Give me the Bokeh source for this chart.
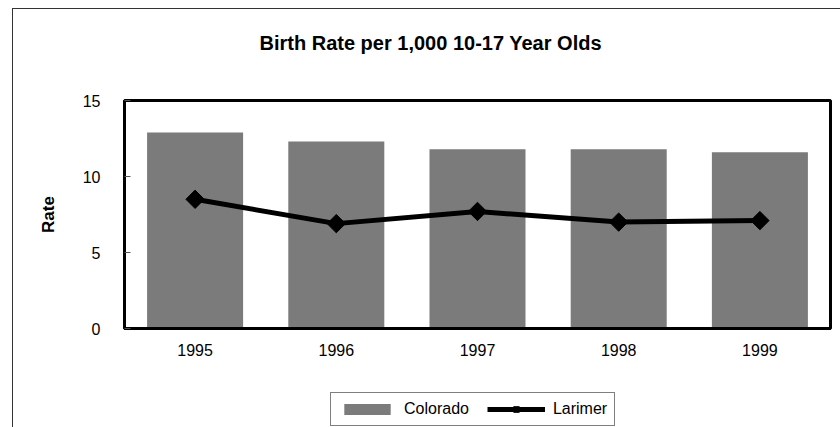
import numpy as np
from bokeh.plotting import figure
from bokeh.layouts import column
from bokeh.models import (FactorRange, Legend, LegendItem, ColumnDataSource, CategoricalAxis)
from bokeh.embed import file_html
from bokeh.resources import INLINE

years = ["1995", "1996", "1997", "1998", "1999"]
colorado = [12.9, 12.3, 11.8, 11.8, 11.6]
larimer = [8.5, 6.9, 7.7, 7.0, 7.1]
y_ticks = [0, 5, 10, 15]

BAR_COLOR = "#7b7b7b"
src = ColumnDataSource(dict(year=years, colorado=colorado, larimer=larimer))

p = figure(width=840, height=392, output_backend="svg", toolbar_location=None,
           x_range=FactorRange(*years, range_padding=0), y_range=(0, 15),
           min_border_left=124, min_border_right=10, min_border_top=100, min_border_bottom=64,
           title="Birth Rate per 1,000 10-17 Year Olds")
# outer chart border (page background shown through a transparent border area)
p.styles = {"background": "linear-gradient(#333,#333) 12px 8px / 1px 100% no-repeat, "
                          "linear-gradient(#333,#333) 12px 8px / 100% 1px no-repeat, #ffffff"}
p.border_fill_alpha = 0

xax = p.xaxis[0]

# an axis without line, ticks or visible labels: only reserves space above the frame
spacer = CategoricalAxis(major_tick_out=42, major_tick_in=0, major_label_standoff=0,
                         axis_line_color=None, major_tick_line_color=None,
                         major_label_overrides={y: "" for y in years},
                         major_label_text_font_size="1px", major_label_text_alpha=0)
p.add_layout(spacer, "above")

p.title.text_font = "Liberation Sans"
p.title.text_font_size = "20px"
p.title.text_font_style = "bold"
p.title.text_color = "black"
p.title.align = "left"
p.title.offset = 135
p.title.standoff = 10

p.outline_line_color = "black"
p.outline_line_width = 3
p.outline_line_alpha = 1
p.background_fill_color = "white"
p.xgrid.visible = False
p.ygrid.visible = False

p.vbar(x="year", top="colorado", width=0.68, source=src, fill_color=BAR_COLOR, line_color=None)
p.line(x="year", y="larimer", source=src, line_color="black", line_width=5)
p.scatter(x="year", y="larimer", source=src, marker="square", angle=np.pi / 4,
          size=13, fill_color="black", line_color="black")

# axes
yax = p.yaxis[0]
yax.ticker = y_ticks
yax.axis_label = "Rate"
yax.axis_label_text_font = "Liberation Sans"
yax.axis_label_text_font_size = "17px"
yax.axis_label_text_font_style = "bold"
yax.axis_label_text_color = "black"
yax.axis_label_standoff = 22
yax.major_label_text_font = "Liberation Sans"
yax.major_label_text_font_size = "16px"
yax.major_label_text_color = "black"
yax.major_label_standoff = 24
yax.major_tick_in = 6
yax.major_tick_out = 0
yax.major_tick_line_color = "#555555"
yax.minor_tick_line_color = None
yax.axis_line_color = "black"
yax.axis_line_width = 3

xax.major_label_text_font = "Liberation Sans"
xax.major_label_text_font_size = "16px"
xax.major_label_text_color = "black"
xax.major_label_standoff = 15
xax.major_tick_line_color = None
xax.major_tick_out = 0
xax.major_tick_in = 0
xax.axis_line_color = "black"
xax.axis_line_width = 3

# legend strip below the chart: same series, drawn outside its visible y range,
# so that only their legend swatches show
lf = figure(width=840, height=35, output_backend="svg", toolbar_location=None,
            x_axis_type=None, y_axis_type=None,
            x_range=FactorRange(*years, range_padding=0), y_range=(100, 101),
            min_border=0, min_border_left=0, min_border_right=0,
            min_border_top=0, min_border_bottom=0)
lf.styles = {"background": "linear-gradient(#333,#333) 12px 0px / 1px 100% no-repeat, #ffffff"}
lf.outline_line_color = None
lf.background_fill_alpha = 0
lf.border_fill_alpha = 0
lf.xgrid.visible = False
lf.ygrid.visible = False

lbar = lf.vbar(x="year", top="colorado", width=0.68, source=src,
               fill_color=BAR_COLOR, line_color=None)
lline = lf.line(x="year", y="larimer", source=src, line_color="black", line_width=5)
lmark = lf.scatter(x="year", y="larimer", source=src, marker="square", angle=np.pi / 4,
                   size=13, fill_color="black", line_color="black")

legend = Legend(items=[LegendItem(label="Colorado", renderers=[lbar]),
                       LegendItem(label="Larimer", renderers=[lline, lmark])],
                orientation="horizontal", location=(206, 1),
                label_text_font="Liberation Sans", label_text_font_size="16px",
                label_text_color="black",
                glyph_width=58, glyph_height=14, label_standoff=8, spacing=18,
                padding=7, margin=0,
                border_line_color="black", border_line_width=1,
                background_fill_color="white", background_fill_alpha=1)
lf.add_layout(legend, "center")

layout = column(p, lf, spacing=0)
open("out.html", "w").write(file_html(layout, INLINE))
